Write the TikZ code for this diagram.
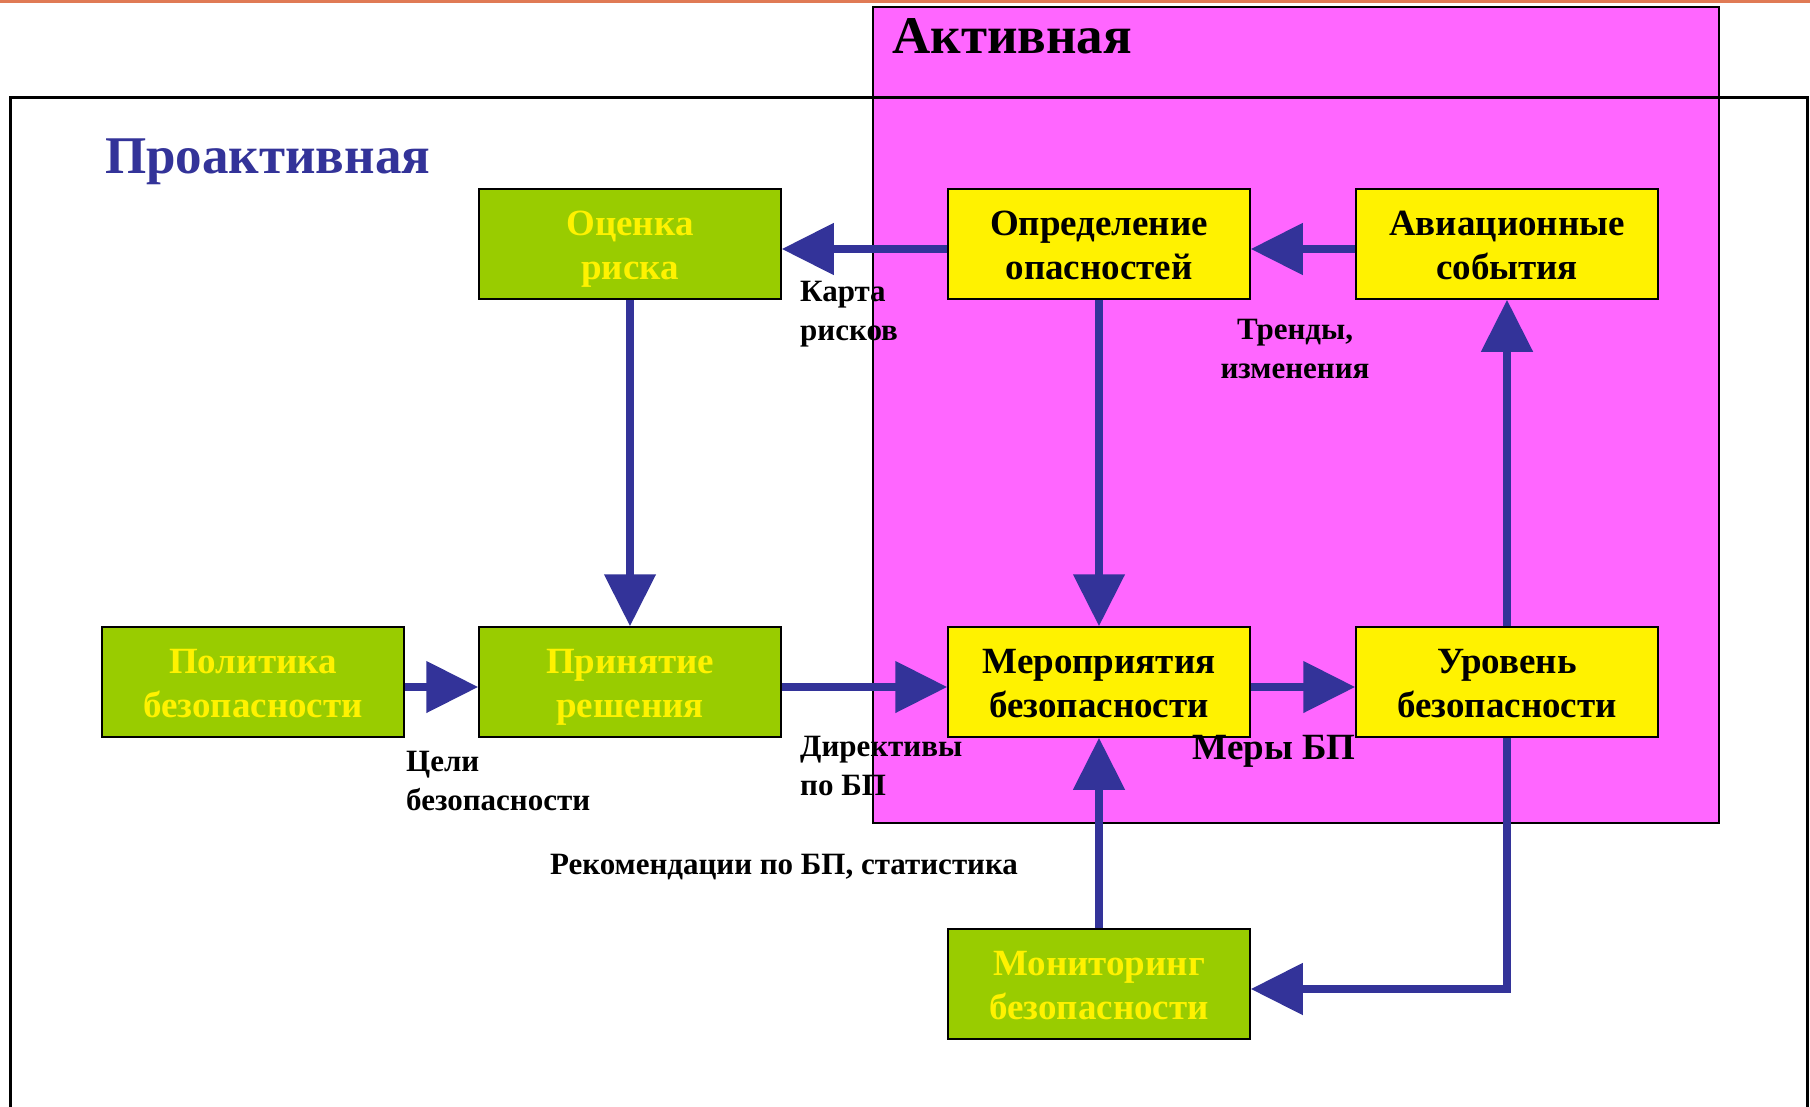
\documentclass[tikz,border=0pt]{standalone}
\usepackage{fontspec}
\setmainfont{Liberation Serif}
\usetikzlibrary{arrows.meta}
\definecolor{flow}{HTML}{333399}
\definecolor{leaf}{HTML}{99CC00}
\definecolor{pink}{HTML}{FF66FF}
\definecolor{topline}{HTML}{E07A55}
\newcommand{\twolines}[2]{\rule{0pt}{41pt}#1\\\strut#2}
\begin{document}
\begin{tikzpicture}[x=1pt, y=-1pt, >={Triangle[length=52pt,width=50pt]},
    box/.style={draw=black, line width=1.5pt, minimum width=302pt, minimum height=110pt,
        align=center, font=\fontsize{37}{44}\selectfont\bfseries},
    gbox/.style={box, fill=leaf, text=yellow},
    ybox/.style={box, fill=yellow, text=black},
    flowline/.style={draw=flow, line width=8pt},
    lbl/.style={align=left, font=\fontsize{31}{39}\selectfont\bfseries, inner sep=0pt}]
\useasboundingbox (0,0) rectangle (1810,1106);
\fill[white] (0,0) rectangle (1810,1106);
\draw[topline, line width=3pt] (0,1) -- (1810,1);
% zones
\draw[fill=pink, line width=1.5pt] (873,7) rectangle (1719,823);
\draw[line width=3pt] (10,1120) -- (10,97) -- (1807,97) -- (1807,1120);
\node[anchor=west, inner sep=0pt, font=\fontsize{53}{60}\selectfont\bfseries] (act) at (892,36) {Активная};
\node[anchor=west, inner sep=0pt, text=flow, font=\fontsize{53}{60}\selectfont\bfseries] (proact) at (105,162) {Проактивная};
% blocks
\node[gbox] (ocen) at (630,244) {\twolines{Оценка}{риска}};
\node[ybox] (opred) at (1099,244) {\twolines{Определение}{опасностей}};
\node[ybox] (avia) at (1507,244) {\twolines{Авиационные}{события}};
\node[gbox] (polit) at (253,682) {\twolines{Политика}{безопасности}};
\node[gbox] (prin) at (630,682) {\twolines{Принятие}{решения}};
\node[ybox] (merop) at (1099,682) {\twolines{Мероприятия}{безопасности}};
\node[ybox] (urov) at (1507,682) {\twolines{Уровень}{безопасности}};
\node[gbox] (monit) at (1099,984) {\twolines{Мониторинг}{безопасности}};
% links
\draw[flowline, ->] ([yshift=-5pt]opred.west) -- ([yshift=-5pt]ocen.east);
\draw[flowline, ->] ([yshift=-5pt]avia.west) -- ([yshift=-5pt]opred.east);
\draw[flowline, ->] (ocen) -- (prin);
\draw[flowline, ->] (opred) -- (merop);
\draw[flowline, ->] (urov) -- (avia);
\draw[flowline, ->] ([yshift=-5pt]polit.east) -- ([yshift=-5pt]prin.west);
\draw[flowline, ->] ([yshift=-5pt]prin.east) -- ([yshift=-5pt]merop.west);
\draw[flowline, ->] ([yshift=-5pt]merop.east) -- ([yshift=-5pt]urov.west);
\draw[flowline, ->] (monit) -- (merop);
\draw[flowline, ->] (urov.south) |- ([yshift=-5pt]monit.east);
% captions
\node[lbl, anchor=west] (karta) at (800,314) {Карта\\рисков};
\node[lbl, align=center] (trend) at (1295,349) {Тренды,\\изменения};
\node[lbl, anchor=west] (celi) at (406,781) {Цели\\безопасности};
\node[lbl, anchor=west] (direkt) at (800,766) {Директивы\\по БП};
\node[lbl, font=\fontsize{37}{44}\selectfont\bfseries] (mery) at (1274,751) {Меры БП};
\node[lbl] (rekom) at (784,867) {Рекомендации по БП, статистика};
\end{tikzpicture}
\end{document}
